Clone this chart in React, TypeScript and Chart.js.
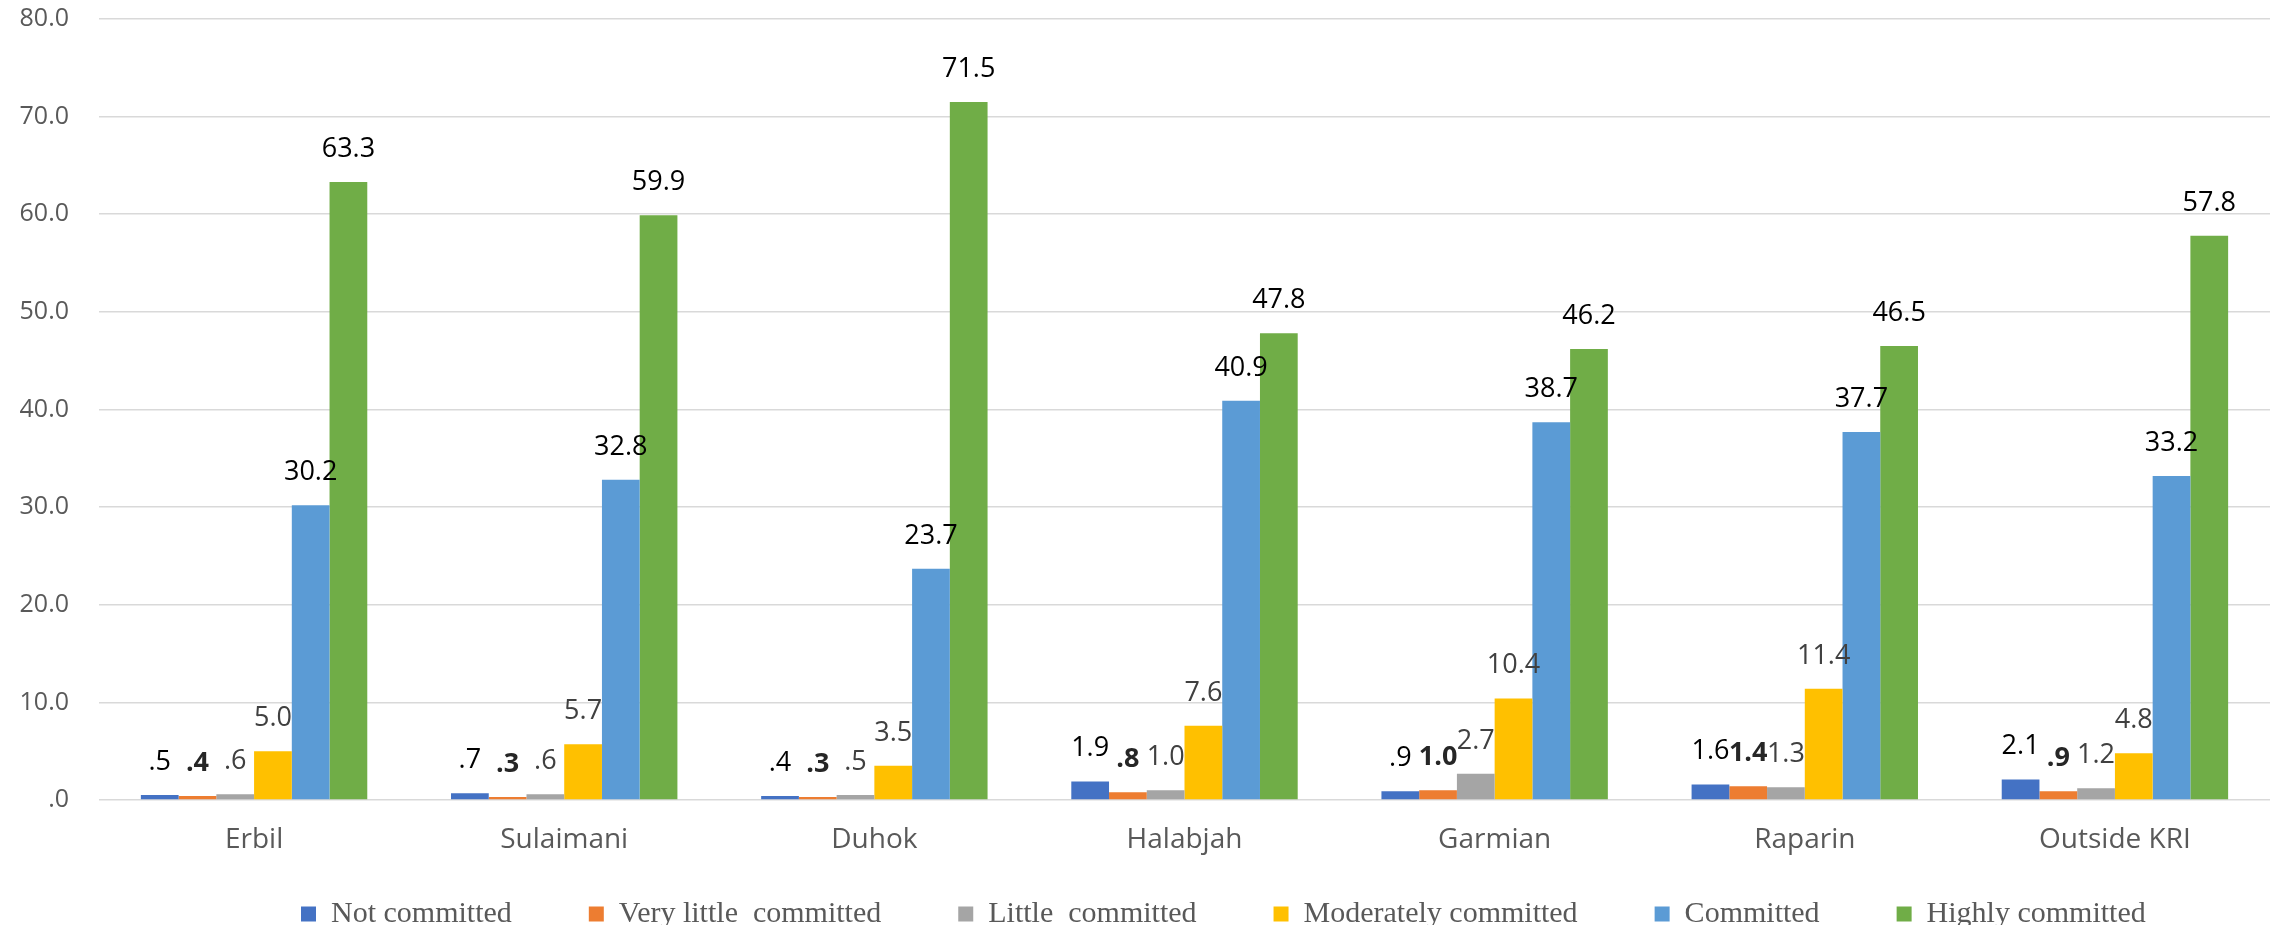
import React, { useEffect, useRef } from "react";
import { Chart, registerables } from "chart.js";

Chart.register(...registerables);

// ---- data ----
const categories = ["Erbil", "Sulaimani", "Duhok", "Halabjah", "Garmian", "Raparin", "Outside KRI"];
const seriesNames = [
  "Not committed",
  "Very little  committed",
  "Little  committed",
  "Moderately committed",
  "Committed",
  "Highly committed",
];
const notCommitted = [0.5, 0.7, 0.4, 1.9, 0.9, 1.6, 2.1];
const veryLittleCommitted = [0.4, 0.3, 0.3, 0.8, 1.0, 1.4, 0.9];
const littleCommitted = [0.6, 0.6, 0.5, 1.0, 2.7, 1.3, 1.2];
const moderatelyCommitted = [5.0, 5.7, 3.5, 7.6, 10.4, 11.4, 4.8];
const committedValues = [30.2, 32.8, 23.7, 40.9, 38.7, 37.7, 33.2];
const highlyCommitted = [63.3, 59.9, 71.5, 47.8, 46.2, 46.5, 57.8];
const yMin = 0;
const yMax = 80;
const yStep = 10;

// ---- styles ----
const seriesColors = ["#4472C4", "#ED7D31", "#A5A5A5", "#FFC000", "#5B9BD5", "#70AD47"];
const labelStyles = [
  { color: "#000000", weight: "normal" },
  { color: "#262626", weight: "bold" },
  { color: "#404040", weight: "normal" },
  { color: "#404040", weight: "normal" },
  { color: "#000000", weight: "normal" },
  { color: "#000000", weight: "normal" },
];

const fmt = (v: number) => {
  const s = v.toFixed(1);
  return s.startsWith("0") ? s.slice(1) : s;
};

const valueLabels = {
  id: "valueLabels",
  afterDatasetsDraw(chart: any) {
    const ctx = chart.ctx;
    ctx.save();
    ctx.textAlign = "center";
    ctx.textBaseline = "alphabetic";
    chart.data.datasets.forEach((ds: any, i: number) => {
      const meta = chart.getDatasetMeta(i);
      const st = labelStyles[i];
      ctx.font = `${st.weight} 27px "Open Sans"`;
      ctx.fillStyle = st.color;
      meta.data.forEach((el: any, j: number) => {
        ctx.fillText(fmt(ds.data[j]), el.x, el.y - 25);
      });
    });
    ctx.restore();
  },
};

const legendPlace = {
  id: "legendPlace",
  afterLayout(chart: any) {
    const l = chart.legend;
    if (l) {
      l.left = 216;
      l.right = 2600;
      l.top = 814;
    }
  },
};

export default function App() {
  const ref = useRef<HTMLCanvasElement | null>(null);
  useEffect(() => {
    if (!ref.current) return;
    const series = [
      notCommitted,
      veryLittleCommitted,
      littleCommitted,
      moderatelyCommitted,
      committedValues,
      highlyCommitted,
    ];
    const chart = new Chart(ref.current, {
      type: "bar",
      data: {
        labels: categories,
        datasets: series.map((d, i) => ({
          label: seriesNames[i],
          data: d,
          backgroundColor: seriesColors[i],
          borderWidth: 0,
          categoryPercentage: 0.73,
          barPercentage: 1,
        })),
      },
      options: {
        animation: false,
        responsive: true,
        maintainAspectRatio: false,
        layout: { padding: { top: 11, right: 7, left: 0, bottom: 0 } },
        plugins: {
          tooltip: { enabled: false },
          legend: {
            position: "bottom",
            align: "start",
            maxHeight: 65,
            labels: {
              boxWidth: 15,
              boxHeight: 15,
              padding: 77,
              color: "#595959",
              font: { family: '"Liberation Serif"', size: 30 },
            },
          },
        },
        scales: {
          x: {
            grid: { display: false, drawTicks: false },
            border: { display: false },
            ticks: {
              color: "#595959",
              padding: 23,
              font: { family: '"Open Sans"', size: 28 },
            },
            afterFit(scale: any) {
              scale.height = 60;
            },
          },
          y: {
            min: yMin,
            max: yMax,
            grid: { color: "#D9D9D9", lineWidth: 1.6, drawTicks: false },
            border: { display: false },
            ticks: {
              stepSize: yStep,
              color: "#595959",
              padding: 30,
              font: { family: '"Open Sans"', size: 25, lineHeight: 0.8 },
              callback: (v: any) => fmt(Number(v)),
            },
            afterFit(scale: any) {
              scale.width = 91;
              scale.paddingTop = 0;
              scale.paddingBottom = 0;
            },
          },
        },
      },
      plugins: [valueLabels, legendPlace],
    });
    return () => chart.destroy();
  }, []);
  return (
    <div style={{ position: "relative", width: 2269, height: 917 }}>
      <canvas ref={ref} />
    </div>
  );
}
